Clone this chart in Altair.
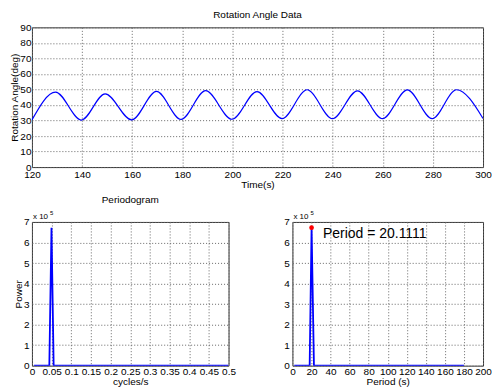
import altair as alt
import pandas as pd

# ---- data ----
# Rotation angle: extrema (troughs / peaks) of the oscillation
time_s = [120.0, 129.4, 139.7, 149.2, 159.8, 169.7, 179.5, 189.3, 199.8, 209.8,
          219.8, 229.8, 239.9, 249.9, 259.9, 269.8, 279.7, 289.4, 300.0]
angle_deg = [30.4, 48.3, 30.3, 47.2, 30.4, 48.7, 30.7, 49.2, 30.8, 48.6,
             31.2, 49.8, 31.2, 49.1, 31.2, 49.7, 31.2, 49.8, 31.3]

# Periodogram (frequency domain)
freq = [0.0055, 0.0442, 0.0497, 0.0552, 0.5]
power = [0, 0, 672000, 0, 0]

# Periodogram (period domain)
period = [2.0, 18.1, 20.1111, 22.6, 180.0]
period_power = [0, 0, 672000, 0, 0]

peak_period = [20.1111]
peak_power = [672000]
annotation = ["Period = 20.1111"]
annot_x = [32.0]
annot_y = [640000]

FONT = "Liberation Sans"
BLUE = "#0000ff"

df_top = pd.DataFrame({"t": time_s, "a": angle_deg})
df_f = pd.DataFrame({"f": freq, "p": power})
df_p = pd.DataFrame({"T": period, "p": period_power})
df_peak = pd.DataFrame({"T": peak_period, "p": peak_power})
df_ann = pd.DataFrame({"T": annot_x, "p": annot_y, "txt": annotation})

def ax(values, title, lp=1, **kw):
    return alt.Axis(values=values, title=title, grid=True, ticks=False, domain=False,
                    labelPadding=lp, titlePadding=0, labelFlush=False, labelOverlap=False,
                    labelFont=FONT, labelFontSize=10, labelColor="black",
                    titleFont=FONT, titleFontSize=10, titleFontWeight="normal", titleColor="black",
                    gridColor="#666666", gridDash=[1, 2], gridOpacity=1, gridWidth=1, **kw)

# ---- top panel ----
top = alt.Chart(df_top).mark_line(color=BLUE, strokeWidth=1.2, interpolate="monotone", clip=True).encode(
    x=alt.X("t:Q", scale=alt.Scale(domain=[120, 300], nice=False, zero=False),
            axis=ax(list(range(120, 301, 20)), "Time(s)", lp=2)),
    y=alt.Y("a:Q", scale=alt.Scale(domain=[0, 90], nice=False),
            axis=ax(list(range(0, 91, 10)), "Rotation Angle(deg)")),
).properties(width=452, height=140,
             title=alt.TitleParams("Rotation Angle Data", fontSize=10, fontWeight="normal",
                                   font=FONT, offset=2, color="black", frame="group"))

ytick = [i * 100000 for i in range(8)]
ylab = "datum.value / 100000"
yscale = alt.Scale(domain=[0, 700000], nice=False, zero=True)

def sci_label():
    t1 = alt.Chart(df_ann).mark_text(text="x 10", fontSize=8, font=FONT, align="left",
                                     baseline="middle", color="black").encode(
        x=alt.value(1), y=alt.value(-5))
    t2 = alt.Chart(df_ann).mark_text(text="5", fontSize=6, font=FONT, align="left",
                                     baseline="middle", color="black").encode(
        x=alt.value(18), y=alt.value(-9))
    return t1 + t2

# ---- bottom left ----
bl_line = alt.Chart(df_f).mark_line(color=BLUE, strokeWidth=1.8, clip=True).encode(
    x=alt.X("f:Q", scale=alt.Scale(domain=[0, 0.5], nice=False),
            axis=ax([round(i * 0.05, 2) for i in range(11)], "cycles/s",
                    labelExpr="datum.value == 0 ? '0' : format(datum.value, '.2~f')")),
    y=alt.Y("p:Q", scale=yscale, axis=ax(ytick, "Power", lp=3, labelExpr=ylab)),
)
bl = alt.layer(bl_line, sci_label()).properties(
    width=197, height=144,
    title=alt.TitleParams("Periodogram", fontSize=10, fontWeight="normal", font=FONT,
                          offset=5, color="black", frame="group"))

# ---- bottom right ----
xs_br = alt.Scale(domain=[0, 200], nice=False, zero=True)
x_br = alt.X("T:Q", scale=xs_br, axis=ax(list(range(0, 201, 20)), "Period (s)"))
y_br = alt.Y("p:Q", scale=yscale, axis=ax(ytick, None, lp=3, labelExpr=ylab))

br_line = alt.Chart(df_p).mark_line(color=BLUE, strokeWidth=1.8, clip=True).encode(x=x_br, y=y_br)
br_dot = alt.Chart(df_peak).mark_point(filled=True, color="#ff0000", size=22, opacity=1).encode(
    x=x_br, y=y_br)
br_txt = alt.Chart(df_ann).mark_text(fontSize=14, font=FONT, align="left", baseline="middle",
                                     color="black").encode(x=x_br, y=y_br, text="txt:N")
br = alt.layer(br_line, br_dot, br_txt, sci_label()).properties(width=191, height=144)

bottom = alt.hconcat(bl, br, spacing=64, bounds="flush")
chart = alt.vconcat(top, bottom, spacing=55, bounds="flush").properties(
    padding={"left": 1, "top": 1, "right": 0, "bottom": 0},
    background="white",
).configure_view(stroke="#333333", strokeWidth=1)

chart.save("out.html", embed_options={"renderer": "svg", "actions": False})
